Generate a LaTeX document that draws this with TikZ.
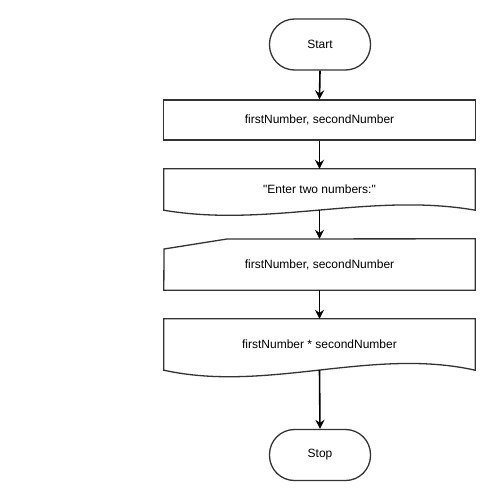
\documentclass[tikz,border=0pt]{standalone}
\usepackage{fontspec}
\setmainfont{Liberation Sans}
\usetikzlibrary{arrows.meta}
\begin{document}
\begin{tikzpicture}[x=1pt,y=-1pt,
  box/.style={inner sep=0pt, font=\fontsize{12}{14}\selectfont},
  term/.style={box, draw=black!80, line width=1.3pt, rounded corners=25pt, minimum width=101pt, minimum height=51pt},
  outline/.style={draw=black!80, line width=1.3pt},
  flow/.style={draw=black, line width=1.6pt, -{Stealth[length=9pt,width=9pt,inset=3pt]}}]
\useasboundingbox (0,0) rectangle (495,500);
\fill[white] (0,0) rectangle (495,500);
% Start
\node[term] (start) at (320,44.5) {Start};
% process rectangle
\node[box, draw=black!80, line width=1.3pt, minimum width=312pt, minimum height=40pt] (decl) at (319.5,120) {firstNumber, secondNumber};
% document 1
\node[box, minimum width=311pt, minimum height=41pt] (out1) at (319.5,189.5) {\textquotedbl Enter two numbers:\textquotedbl};
\draw[outline] (out1.south west) -- (out1.north west) -- (out1.north east) -- (out1.south east)
  .. controls (371.5,192) and (267.5,228) .. (out1.south west) -- cycle;
% manual input
\node[box, minimum width=311pt, minimum height=51pt] (in1) at (319.5,264.5) {firstNumber, secondNumber};
\draw[outline] (in1.south west) -- (164,249) -- (227,239) -- (in1.north east) -- (in1.south east) -- cycle;
% document 2
\node[box, minimum width=311pt, minimum height=51pt] (out2) at (319.5,344.5) {firstNumber * secondNumber};
\draw[outline] (out2.south west) -- (out2.north west) -- (out2.north east) -- (out2.south east)
  .. controls (371.5,347) and (267.5,393) .. (out2.south west) -- cycle;
% Stop
\node[term] (stop) at (320,455) {Stop};
% connectors
\draw[flow] (start.south) -- (decl.north);
\draw[flow] (decl.south) -- (out1.north);
\draw[flow] (out1.south) -- (in1.north);
\draw[flow] (in1.south) -- (out2.north);
\draw[flow] (out2.south) -- (stop.north);
\end{tikzpicture}
\end{document}
